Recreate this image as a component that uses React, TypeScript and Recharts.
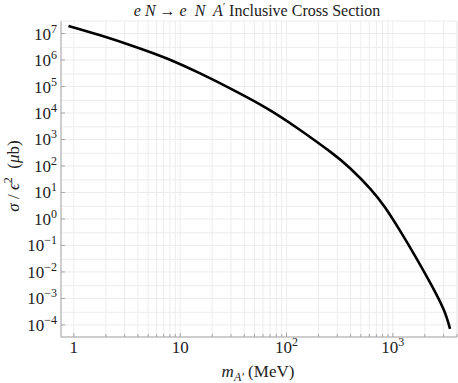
import React from 'react';
import { LineChart, Line, XAxis, YAxis, CartesianGrid } from 'recharts';

// values (mass in MeV, sigma/eps^2 in microbarn)
const massMeV = [0.89, 1.77, 3.64, 7.5, 15.4, 31.7, 65.3, 125, 257, 396, 611, 845, 1170, 1620, 2240, 2990, 3450];
const sigmaUb = [
  1.94e7, 8.6e6, 3.33e6, 1.14e6, 3.11e5, 7.31e4, 1.5e4, 2.78e3, 348, 82.2, 14.1, 2.69, 0.355, 0.0398, 3.98e-3,
  3.98e-4, 7.1e-5,
];

const xMajor = [1, 10, 100, 1000];
const xMinor = [
  2, 3, 4, 5, 6, 7, 8, 9,
  20, 30, 40, 50, 60, 70, 80, 90,
  200, 300, 400, 500, 600, 700, 800, 900,
  2000, 3000, 4000,
];
const yMajor = [1e-4, 1e-3, 1e-2, 1e-1, 1, 10, 100, 1e3, 1e4, 1e5, 1e6, 1e7];
const yMinor = [3e-4, 3e-3, 3e-2, 3e-1, 3, 30, 300, 3e3, 3e4, 3e5, 3e6];

const xDomain = [0.757, 4010];
const yDomain = [3.5e-5, 2.97e7];

const data = massMeV.map((m, i) => ({ m, sigma: sigmaUb[i] }));

const FONT = '"Liberation Serif", "Times New Roman", serif';
const AXIS = '#a6a6a6';
const GRID = '#ececec';
const TEXT = { fontFamily: FONT };

const isMajor = (list: number[], v: number) => list.some((t) => Math.abs(t - v) / t < 1e-9);

const XTick = (props: any) => {
  const { x, y, payload } = props;
  const v = payload.value;
  const major = isMajor(xMajor, v);
  const exp = Math.round(Math.log10(v));
  return (
    <g>
      <line x1={x} x2={x} y1={y} y2={y - (major ? 4 : 3)} stroke={AXIS} />
      {major && (
        <text x={x} y={y + 16} textAnchor="middle" fontSize={17} style={TEXT} fill="#222">
          {exp <= 1 ? (
            <tspan>{String(v)}</tspan>
          ) : (
            <>
              <tspan>10</tspan>
              <tspan dy={-7} fontSize={12}>{exp}</tspan>
            </>
          )}
        </text>
      )}
    </g>
  );
};

const YTick = (props: any) => {
  const { x, y, payload } = props;
  const v = payload.value;
  if (!isMajor(yMajor, v)) return <g />;
  const exp = Math.round(Math.log10(v));
  return (
    <g>
      <line x1={x} x2={x + 4} y1={y} y2={y} stroke={AXIS} />
      <text x={x - 4} y={y + 6} textAnchor="end" fontSize={17} style={TEXT} fill="#222">
        <tspan>10</tspan>
        <tspan dy={-7} fontSize={12}>{exp < 0 ? '\u2212' + Math.abs(exp) : String(exp)}</tspan>
      </text>
    </g>
  );
};

export default function App() {
  return (
    <div style={{ position: 'absolute', left: 0, top: 0, width: 458, height: 383, background: '#fff' }}>
      <LineChart
        width={458}
        height={383}
        data={data}
        margin={{ top: 21, right: 1, bottom: 0, left: 0 }}
        style={{ fontFamily: FONT }}
      >
        <CartesianGrid stroke={GRID} strokeWidth={1} />
        <XAxis
          dataKey="m"
          type="number"
          scale="log"
          domain={xDomain}
          allowDataOverflow
          ticks={[...xMajor, ...xMinor]}
          interval={0}
          tick={<XTick />}
          tickLine={false}
          tickSize={0}
          tickMargin={0}
          height={46}
          axisLine={{ stroke: AXIS }}
        />
        <XAxis
          xAxisId="top"
          orientation="top"
          type="number"
          scale="log"
          domain={xDomain}
          allowDataOverflow
          tick={false}
          tickLine={false}
          height={0}
          axisLine={{ stroke: AXIS }}
        />
        <YAxis
          type="number"
          scale="log"
          domain={yDomain}
          allowDataOverflow
          ticks={[...yMajor, ...yMinor]}
          interval={0}
          tick={<YTick />}
          tickLine={false}
          tickSize={0}
          tickMargin={0}
          width={61}
          axisLine={{ stroke: AXIS }}
        />
        <YAxis
          yAxisId="right"
          orientation="right"
          type="number"
          scale="log"
          domain={yDomain}
          allowDataOverflow
          tick={false}
          tickLine={false}
          width={0}
          axisLine={{ stroke: AXIS }}
        />
        <Line
          type="natural"
          dataKey="sigma"
          stroke="#000"
          strokeWidth={2.6}
          dot={false}
          isAnimationActive={false}
        />
      </LineChart>
      <svg
        width={458}
        height={383}
        style={{ position: 'absolute', left: 0, top: 0, pointerEvents: 'none', fontFamily: FONT }}
        fill="#222"
      >
        <text x={257} y={16} textAnchor="middle" fontSize={16} style={{ whiteSpace: 'pre', ...TEXT }}>
          <tspan fontStyle="italic">e N</tspan>
          <tspan> → </tspan>
          <tspan fontStyle="italic">e  N  A</tspan>
          <tspan dy={-6} fontSize={10}>′</tspan>
          <tspan dy={6}> Inclusive Cross Section</tspan>
        </text>
        <text
          x={0}
          y={0}
          transform="translate(19,176) rotate(-90)"
          textAnchor="middle"
          fontSize={17}
          style={{ whiteSpace: 'pre', ...TEXT }}
        >
          <tspan fontStyle="italic">σ</tspan>
          <tspan> / </tspan>
          <tspan fontStyle="italic">ϵ</tspan>
          <tspan dy={-7} fontSize={12}>2</tspan>
          <tspan dy={7}>  (</tspan>
          <tspan fontStyle="italic">μ</tspan>
          <tspan>b)</tspan>
        </text>
        <text x={258} y={377} textAnchor="middle" fontSize={17} style={{ whiteSpace: 'pre', ...TEXT }}>
          <tspan fontStyle="italic">m</tspan>
          <tspan dy={4} fontSize={12} fontStyle="italic">A′</tspan>
          <tspan dy={-4}> (MeV)</tspan>
        </text>
      </svg>
    </div>
  );
}
